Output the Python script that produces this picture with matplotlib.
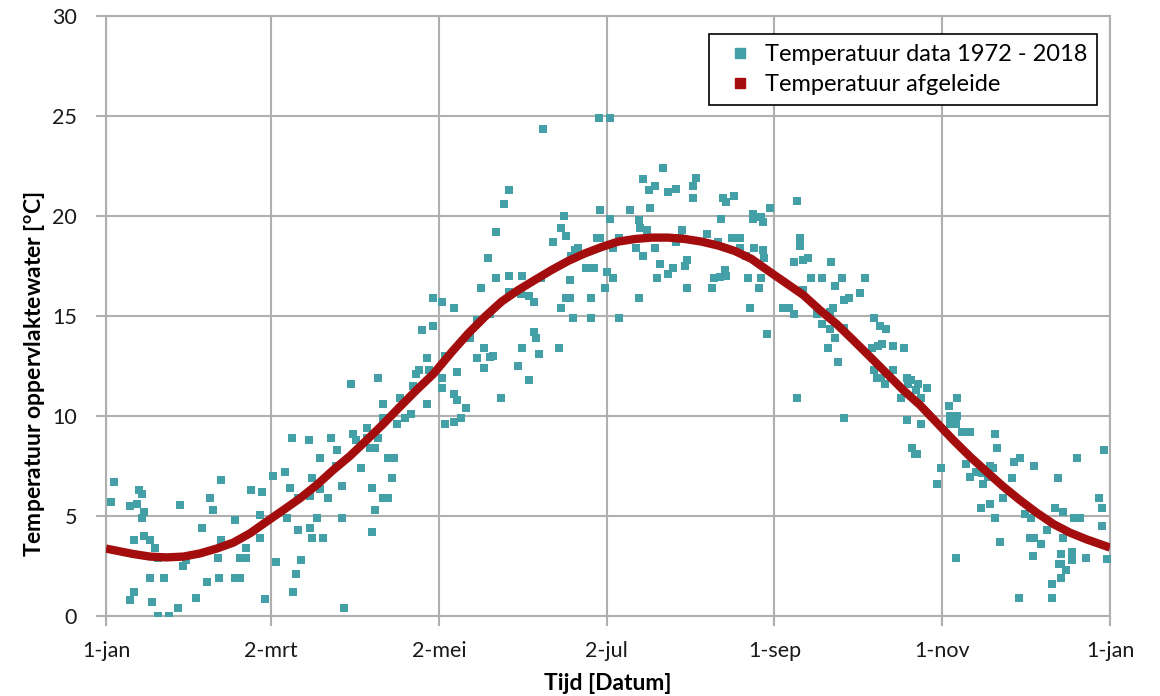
import matplotlib
matplotlib.use("Agg")
import matplotlib.pyplot as plt
from matplotlib.lines import Line2D

plt.rcParams['font.family'] = ['Lato', 'DejaVu Sans']

# Meetpunten (dag van het jaar, temperatuur in graden C)
data_dag = [
    2.9, 1.9, 12, 13, 8.7, 11.2, 13.8, 13, 26.9, 41.8, 37.8, 38.8, 52.7, 56.8, 60.8, 56, 46.8, 35,
    10, 13.8, 16, 17.9, 18.9, 27.9, 29, 41.9, 40.8, 50.9, 48.7, 50.9, 56, 61.8, 16, 21.1, 10.2,
    8.8, 16.8, 18.9, 22.9, 26.1, 32.8, 36.8, 41, 46.8, 48.7, 57.8,
    118.9, 122, 114.8, 118.9, 116.7, 113.8, 112.6, 117.5, 111.7, 116.7, 106.8, 100.7, 98.9, 88.9,
    100.7, 105.7, 108.7, 110.7, 123.2, 122, 122, 94.9, 89.9, 90.8, 94.9, 99, 96.1, 97.8, 102.6,
    104.8, 92.7, 103.8, 96.7, 100.8, 102.6, 97.7, 96.7, 67.7, 73.9, 81.7, 84, 77.8, 83.5, 75,
    85.8, 77.9, 65, 66.8, 69.9, 74.2, 80.8, 65.9, 76.8, 85.8, 69.9, 74, 75, 79, 70.9, 69, 67.9,
    86.6,
    158.7, 179.2, 183.2, 146.5, 144.7, 166.5, 179.6, 183.2, 165.5, 167.3, 162.5, 141.7, 178.4,
    179.6, 170.4, 171.6, 169, 138.7, 174.4, 177.5, 182.2, 141.7, 146.5, 151.4, 158.1, 168.7,
    181.4, 136.5, 146.5, 151, 153.8, 155.6, 167.2, 168.7, 176.4, 165.5, 169.6, 176.4, 126.6,
    139.6, 134.7, 155.6, 156.5, 132.3, 137.5, 151.4, 164.6, 134.7, 139.6, 140.8, 157.4, 123.2,
    137.5, 149.6, 127.7, 153.8, 126.6, 127.7, 130.7, 143.7, 126.6, 128.9,
    202.6, 195.3, 199.6, 197.5, 204.4, 207.4, 214.5, 213.5, 213.5, 224.4, 225.3, 228.4, 190.5,
    197.7, 193.6, 235.3, 235.3, 238.3, 238.9, 241.4, 223.5, 194.1, 196.5, 209.5, 186.5, 218.4,
    207.4, 208.6, 227.5, 230.4, 222.6, 192.6, 199.6, 230.4, 235.5, 238.9, 239.3, 184.4, 195.3,
    232.6, 201.4, 211.3, 210.5, 206.2, 204.4, 224.9, 225.3, 223.1, 221.1, 184.4, 200.4, 233.5,
    238.3, 211.3, 220.3, 237.5, 193.6, 234.3, 186.5, 240.2,
    251.2, 252.4, 252.4, 250.2, 253.5, 255.3, 263.4, 256.3, 260.3, 267.4, 276, 265.1, 253.5,
    268.3, 270.2, 274.2, 246.2, 248.3, 250.2, 258.3, 264.4, 263.2, 260.2, 263.2, 265.2, 268.4,
    262.3, 266.2, 251.2, 268.3, 279.2, 281.3, 283.4, 278.3, 280.7, 282.2, 286.1, 290.2, 279.3,
    280.3, 281.7, 283.2, 286.1, 291.2, 292.8, 291.7, 295.3, 298.3, 294.3, 289.2, 296.2, 291.2,
    296.4, 293.1, 295, 294.1, 303.7,
    309.2, 306.4, 306.8, 308, 309.2, 309, 306.8, 311.3, 314, 323.2, 324.1, 302.2, 312.5, 314,
    316.2, 318.3, 321.3, 322.5, 320.7, 318.9, 329.2, 330, 332.2, 337.2, 326.2, 318, 321.3, 323.3,
    325, 309.1, 334, 336.2, 335.9, 337.3, 340, 337.1, 342.1, 345, 348, 346.2, 353, 352, 354, 348,
    347.1, 351.2, 351.2, 356.1, 346.4, 347.1, 348.9, 347.1, 344, 344, 332, 363, 361.1, 362, 362,
    363.9,
]
data_temp = [
    6.7, 5.7, 6.3, 6.1, 5.5, 5.6, 5.2, 4.9, 5.55, 6.8, 5.9, 5.3, 6.3, 6.2, 7.0, 5.05, 4.8, 4.4,
    3.8, 4.0, 3.8, 3.4, 2.9, 2.5, 2.8, 3.8, 2.9, 3.4, 2.9, 2.9, 3.9, 2.7, 1.9, 1.9, 1.2,
    0.8, 0.7, 0.0, 0.0, 0.4, 0.9, 1.7, 1.9, 1.9, 1.9, 0.85,
    15.9, 15.7, 14.3, 14.5, 12.9, 12.3, 12.1, 12.3, 11.5, 10.6, 10.9, 10.6, 11.9, 11.6,
    9.9, 9.6, 9.9, 10.1, 9.6, 11.9, 11.4, 9.4, 9.1, 8.8, 8.9, 8.9, 8.4, 8.4, 7.9,
    7.9, 7.4, 6.9, 6.4, 5.9, 5.9, 5.3, 4.2, 8.9, 8.8, 8.9, 8.3, 7.9, 7.5, 6.9,
    6.5, 6.35, 7.2, 6.4, 5.9, 6.0, 5.9, 4.9, 4.9, 4.9, 4.3, 4.4, 3.9, 3.9, 2.8, 2.1, 1.2,
    0.4,
    24.35, 24.9, 24.9, 21.3, 20.6, 20.0, 20.3, 19.85, 19.4, 19.0, 18.7, 19.2, 18.9,
    18.9, 18.3, 18.4, 18.0, 17.9, 17.4, 17.4, 17.2, 16.9, 17.0, 17.0, 16.9, 16.8,
    16.4, 16.4, 16.2, 16.1, 16.0, 15.7, 15.9, 15.9, 15.9, 15.4, 14.9, 14.9, 15.4,
    15.1, 14.8, 14.2, 13.9, 13.9, 13.4, 13.4, 13.4, 12.9, 12.95, 13.0, 13.1, 13.0,
    12.4, 12.5, 12.2, 11.8, 11.1, 10.8, 10.4, 10.9, 9.7, 9.9,
    22.4, 21.85, 21.5, 21.3, 21.2, 21.35, 21.9, 21.5, 20.9, 20.9, 20.7, 21.0, 20.3,
    20.4, 19.8, 20.1, 19.85, 19.95, 19.7, 20.4, 19.85, 19.4, 19.3, 19.3, 18.9, 19.1,
    18.7, 18.9, 18.9, 18.9, 18.7, 18.4, 18.4, 18.4, 18.4, 18.3, 17.9, 18.4, 18.0,
    18.0, 17.6, 17.8, 17.5, 17.4, 17.1, 17.3, 17.0, 16.95, 16.9, 16.9, 16.9, 16.9,
    16.9, 16.4, 16.4, 16.4, 15.9, 15.4, 14.9, 14.1,
    20.75, 18.9, 18.5, 17.7, 17.8, 17.9, 17.7, 16.9, 16.9, 16.9, 16.9, 16.5, 16.3,
    15.8, 15.9, 16.15, 15.4, 15.4, 15.1, 15.1, 15.4, 15.2, 14.6, 14.35, 13.9, 14.4,
    13.4, 12.7, 10.9, 9.9, 14.9, 14.5, 14.35, 13.4, 13.5, 13.6, 13.5, 13.4, 12.3,
    11.9, 11.9, 11.6, 12.3, 11.9, 11.8, 11.6, 11.6, 11.4, 11.3, 10.9, 10.9, 9.8,
    9.6, 8.4, 8.1, 8.1, 7.4,
    10.9, 10.5, 10.0, 9.8, 10.0, 9.6, 9.6, 9.2, 9.2, 9.1, 8.4, 6.6, 7.6, 6.95,
    7.2, 7.15, 7.5, 7.4, 6.95, 6.6, 6.9, 7.7, 7.9, 7.5, 5.9, 5.4, 5.6, 4.9,
    3.7, 2.9, 5.1, 4.9, 3.9, 3.9, 3.6, 3.0, 4.3, 5.4, 5.2, 6.9, 7.9, 4.9, 4.9, 3.9,
    3.1, 3.2, 2.8, 2.9, 2.6, 2.6, 2.3, 1.9, 1.6, 0.9, 0.9, 8.3, 5.9, 5.4, 4.5,
    2.85,
]

curve_dag = [0, 9.9, 16, 22, 28.1, 34.2, 40.2, 46.3, 52.3, 58.4, 64.5, 70.5, 76.6, 82.6,
             88.7, 94.8, 100.8, 106.9, 112.9, 119, 125.7, 131.7, 137.8, 143.8, 149.9, 155.9,
             162, 168, 174.1, 180.2, 186.2, 192.3, 198.4, 204.4, 210.5, 216.5, 222.6, 228.6,
             234.7, 241.4, 247.4, 253.5, 259.5, 265.6, 271.6, 277.7, 283.8, 289.8, 295.9, 302,
             308, 314.1, 320.1, 326.2, 332.2, 338.3, 344.4, 350.4, 356.5, 365]
curve_temp = [3.37, 3.1, 2.97, 2.93, 2.97, 3.13, 3.37, 3.67, 4.13, 4.72, 5.3, 5.88, 6.55, 7.3,
              8.0, 8.8, 9.6, 10.47, 11.3, 12.1, 13.2, 14.13, 14.97, 15.72, 16.3, 16.8,
              17.3, 17.75, 18.13, 18.45, 18.72, 18.85, 18.92, 18.92, 18.85, 18.72, 18.52, 18.25,
              17.85, 17.2, 16.63, 16.05, 15.3, 14.6, 13.8, 12.97, 12.13, 11.3, 10.55, 9.67,
              8.8, 7.97, 7.22, 6.47, 5.8, 5.17, 4.6, 4.17, 3.83, 3.42]

tick_dag = [0, 60, 121, 182, 243, 304, 365]
tick_labels = ["1-jan", "2-mrt", "2-mei", "2-jul", "1-sep", "1-nov", "1-jan"]

teal = "#42A0A6"
red = "#A30D0D"
grid_col = "#AFAFAF"

fig = plt.figure(figsize=(11.6, 6.96), dpi=100)
ax = fig.add_axes([106 / 1160, 1 - 616 / 696, 1004 / 1160, 600 / 696])

ax.scatter(data_dag, data_temp, marker="s", s=34, color=teal, linewidths=0, zorder=3)
ax.plot(curve_dag, curve_temp, color=red, linewidth=6, solid_capstyle="butt",
        solid_joinstyle="round", zorder=4)

ax.set_xlim(0, 365)
ax.set_ylim(0, 30)
ax.set_xticks(tick_dag)
ax.set_xticklabels(tick_labels)
ax.set_yticks(range(0, 31, 5))
ax.grid(True, color=grid_col, linewidth=1.5)
ax.set_axisbelow(True)
for s in ax.spines.values():
    s.set_color(grid_col)
    s.set_linewidth(1.5)
ax.tick_params(axis="both", direction="out", length=7, width=1.5, color=grid_col,
               labelsize=15.5, labelcolor="#1a1a1a")
ax.tick_params(axis="x", pad=11)
ax.tick_params(axis="y", pad=14)

ax.set_xlabel("Tijd [Datum]", fontsize=16.5, fontweight="bold", labelpad=9)
ax.set_ylabel("Temperatuur oppervlaktewater [$^\\mathregular{o}$C]", fontsize=16.5,
              fontweight="bold")
ax.yaxis.set_label_coords(-0.058, 0.403)

handles = [
    Line2D([], [], marker="s", linestyle="none", color=teal, markersize=6.5),
    Line2D([], [], marker="s", linestyle="none", color=red, markersize=6.5),
]
leg = ax.legend(handles, ["Temperatuur data 1972 - 2018", "Temperatuur afgeleide"],
                loc="upper right", bbox_to_anchor=(0.9985, 0.989), fontsize=17,
                fancybox=False, framealpha=1, edgecolor="black", handletextpad=0.15,
                handlelength=1.8, borderpad=0.4, labelspacing=0.4)
leg.get_frame().set_linewidth(1.2)

fig.savefig("out.png", dpi=100)
